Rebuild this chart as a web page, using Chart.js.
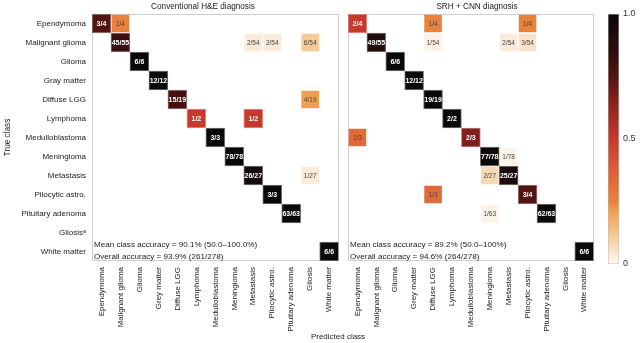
<!DOCTYPE html>
<html><head><meta charset="utf-8">
<script src="https://cdn.jsdelivr.net/npm/chart.js@4.4.1/dist/chart.umd.min.js"></script>
<style>
html,body{margin:0;padding:0;background:#fff;width:640px;height:343px;overflow:hidden;font-family:'Liberation Sans',Arial,sans-serif;}
canvas{position:absolute;top:0;}
#c1{left:0;}
#c2{left:345px;}
#c3{left:600px;}
.lbl{position:absolute;text-align:center;font-size:8.2px;line-height:10px;color:#222;white-space:nowrap;}
#xt{left:290px;width:96px;top:332px;font-size:8px;}
#t1{left:143px;width:120px;top:2px;}
#t2{left:417px;width:120px;top:2px;}
</style></head><body>
<canvas id="c1" width="345" height="343"></canvas>
<canvas id="c2" width="255" height="343"></canvas>
<canvas id="c3" width="40" height="343"></canvas>
<div id="t1" class="lbl"></div>
<div id="t2" class="lbl"></div>
<div id="xt" class="lbl">Predicted class</div>
<script>
// ---- data ----
const colLabels = ['Ependymoma','Malignant glioma','Glioma','Grey matter','Diffuse LGG','Lymphoma','Medulloblastoma','Meningioma','Metastasis','Pilocytic astro.','Pituitary adenoma','Gliosis','White matter'];
const rowLabels = ['Ependymoma','Malignant glioma','Glioma','Gray matter','Diffuse LGG','Lymphoma','Medulloblastoma','Meningioma','Metastasis','Pilocytic astro.','Pituitary adenoma','Gliosis\u1D43','White matter'];
// [row, col, count, total]
const heCells = [[0,0,3,4],[0,1,1,4],[1,1,45,55],[1,8,2,54],[1,9,2,54],[1,11,6,54],[2,2,6,6],[3,3,12,12],[4,4,15,19],[4,11,4,19],[5,5,1,2],[5,8,1,2],[6,6,3,3],[7,7,78,78],[8,8,26,27],[8,11,1,27],[9,9,3,3],[10,10,63,63],[12,12,6,6]];
const srhCells = [[0,0,2,4],[0,4,1,4],[0,9,1,4],[1,1,49,55],[1,4,1,54],[1,8,2,54],[1,9,3,54],[2,2,6,6],[3,3,12,12],[4,4,19,19],[5,5,2,2],[6,0,1,3],[6,6,2,3],[7,7,77,78],[7,8,1,78],[8,7,2,27],[8,8,25,27],[9,4,1,3],[9,9,3,4],[10,7,1,63],[10,10,62,63],[12,12,6,6]];
const heTitle = 'Conventional H&E diagnosis';
const srhTitle = 'SRH + CNN diagnosis';
const heNotes = ['Mean class accuracy = 90.1% (50.0\u2013100.0%)','Overall accuracy = 93.9% (261/278)'];
const srhNotes = ['Mean class accuracy = 89.2% (50.0\u2013100%)','Overall accuracy = 94.6% (264/278)'];
const cbTicks = [0, 0.5, 1];
document.getElementById('t1').textContent = heTitle;
document.getElementById('t2').textContent = srhTitle;

// ---- style ----
const FONT = "'Liberation Sans', Arial, sans-serif";
Chart.defaults.font.family = FONT;
const cmap = [
  [0.00,[253,249,244]],
  [0.04,[250,233,215]],
  [0.11,[246,202,150]],
  [0.21,[238,160,80]],
  [0.25,[232,130,60]],
  [0.33,[225,108,56]],
  [0.50,[198,58,46]],
  [0.67,[126,31,28]],
  [0.75,[80,21,19]],
  [0.85,[46,13,13]],
  [1.00,[10,9,9]]
];
function colorAt(v){
  for(let i=1;i<cmap.length;i++){
    if(v<=cmap[i][0]){
      const a=cmap[i-1], b=cmap[i], t=(v-a[0])/(b[0]-a[0]);
      return a[1].map((c,k)=>Math.round(c+(b[1][k]-c)*t));
    }
  }
  return cmap[cmap.length-1][1];
}
const rgb = c => `rgb(${c[0]},${c[1]},${c[2]})`;
const lighten = (c,t) => c.map(x=>Math.round(x+(255-x)*t));
const fracOf = ctx => (ctx && ctx.raw && ctx.raw.d) ? ctx.raw.n/ctx.raw.d : 0;

const cellText = {
  id:'cellText',
  afterDatasetsDraw(chart){
    const ctx=chart.ctx;
    ctx.save();
    ctx.textAlign='center'; ctx.textBaseline='middle';
    chart.data.datasets.forEach((ds,di)=>{
      const meta=chart.getDatasetMeta(di);
      meta.data.forEach((el,i)=>{
        const r=ds.data[i]; if(!r) return;
        const v=r.n/r.d;
        const dark=v>=0.45;
        ctx.font=(dark?'bold 7px ':'6.5px ')+FONT;
        ctx.fillStyle=dark?'#fff':'#444';
        ctx.fillText(r.n+'/'+r.d, el.x, (el.y+el.base)/2+0.5);
      });
    });
    const ca=chart.chartArea, notes=chart.options.plugins.cellText.notes;
    ctx.textAlign='left'; ctx.font='8.1px '+FONT; ctx.fillStyle='#222';
    ctx.fillText(notes[0], ca.left+2, ca.bottom-16);
    ctx.fillText(notes[1], ca.left+2, ca.bottom-4.5);
    ctx.restore();
  },
  beforeDatasetsDraw(chart){
    const ca=chart.chartArea, ctx=chart.ctx;
    ctx.save(); ctx.strokeStyle='#cfcfcf'; ctx.lineWidth=1;
    ctx.strokeRect(Math.round(ca.left)+0.5, Math.round(ca.top)+0.5, Math.round(ca.width)-1, Math.round(ca.height)-1);
    ctx.restore();
  }
};

function makeHeat(id, cells, notes, showY){
  const datasets = rowLabels.map((_,r)=>({
    data: cells.filter(c=>c[0]===r).map(c=>({x:colLabels[c[1]], y:[r-0.5,r+0.5], n:c[2], d:c[3]})),
    backgroundColor: ctx=>rgb(colorAt(fracOf(ctx))),
    borderColor: ctx=>{const v=fracOf(ctx); return v>=0.45?rgb(lighten(colorAt(v),0.45)):'rgba(0,0,0,0)';},
    borderWidth: 1,
    borderSkipped: false,
    barPercentage: 1, categoryPercentage: 1, grouped: false
  }));
  return new Chart(document.getElementById(id), {
    type:'bar',
    data:{labels:colLabels, datasets},
    options:{
      responsive:false, animation:false,
      layout:{padding:{left:0, right: showY?6:4, top:14, bottom:0}},
      plugins:{
        legend:{display:false}, tooltip:{enabled:false},
        cellText:{notes}
      },
      scales:{
        x:{type:'category', offset:true, grid:{display:false, drawTicks:false}, border:{display:false},
           ticks:{minRotation:90, maxRotation:90, autoSkip:false, color:'#222', font:{size:8}, padding:6},
           afterFit(s){ s.height = 82; }},
        y:{type:'linear', min:-0.5, max:12.5, reverse:true,
           afterBuildTicks(s){ s.ticks = rowLabels.map((_,i)=>({value:i})); },
           grid:{display:false, drawTicks:false}, border:{display:false},
           ticks:{display:showY, autoSkip:false, color:'#222', font:{size:8}, padding:6, callback:v=>rowLabels[v]},
           title:{display:showY, text:'True class', color:'#222', font:{size:8.2}, padding:{top:3,bottom:0}},
           afterFit(s){ s.width = showY?92:3; }}
      }
    },
    plugins:[cellText]
  });
}

makeHeat('c1', heCells, heNotes, true);
makeHeat('c2', srhCells, srhNotes, false);

new Chart(document.getElementById('c3'), {
  type:'bar',
  data:{labels:['cb'], datasets:[{
    data:[[0,1]],
    backgroundColor: ctx=>{
      const ca=ctx.chart.chartArea; if(!ca) return '#000';
      const g=ctx.chart.ctx.createLinearGradient(0,ca.bottom,0,ca.top);
      cmap.forEach(s=>g.addColorStop(s[0], rgb(s[1])));
      return g;
    },
    borderColor:'#bbb', borderWidth:0.8, borderSkipped:false,
    barPercentage:1, categoryPercentage:1
  }]},
  options:{
    responsive:false, animation:false,
    layout:{padding:{left:8, right:0, top:14, bottom:79}},
    plugins:{legend:{display:false}, tooltip:{enabled:false}},
    scales:{
      x:{display:false},
      y:{position:'right', min:0, max:1,
         afterBuildTicks(s){ s.ticks = cbTicks.map(v=>({value:v})); },
         grid:{display:false, drawTicks:false}, border:{display:false},
         ticks:{color:'#333', font:{size:9}, padding:4, callback:v=>v===0?'0':v.toFixed(1)},
         afterFit(s){ s.width = 21; }}
    }
  }
});
</script>
</body></html>
